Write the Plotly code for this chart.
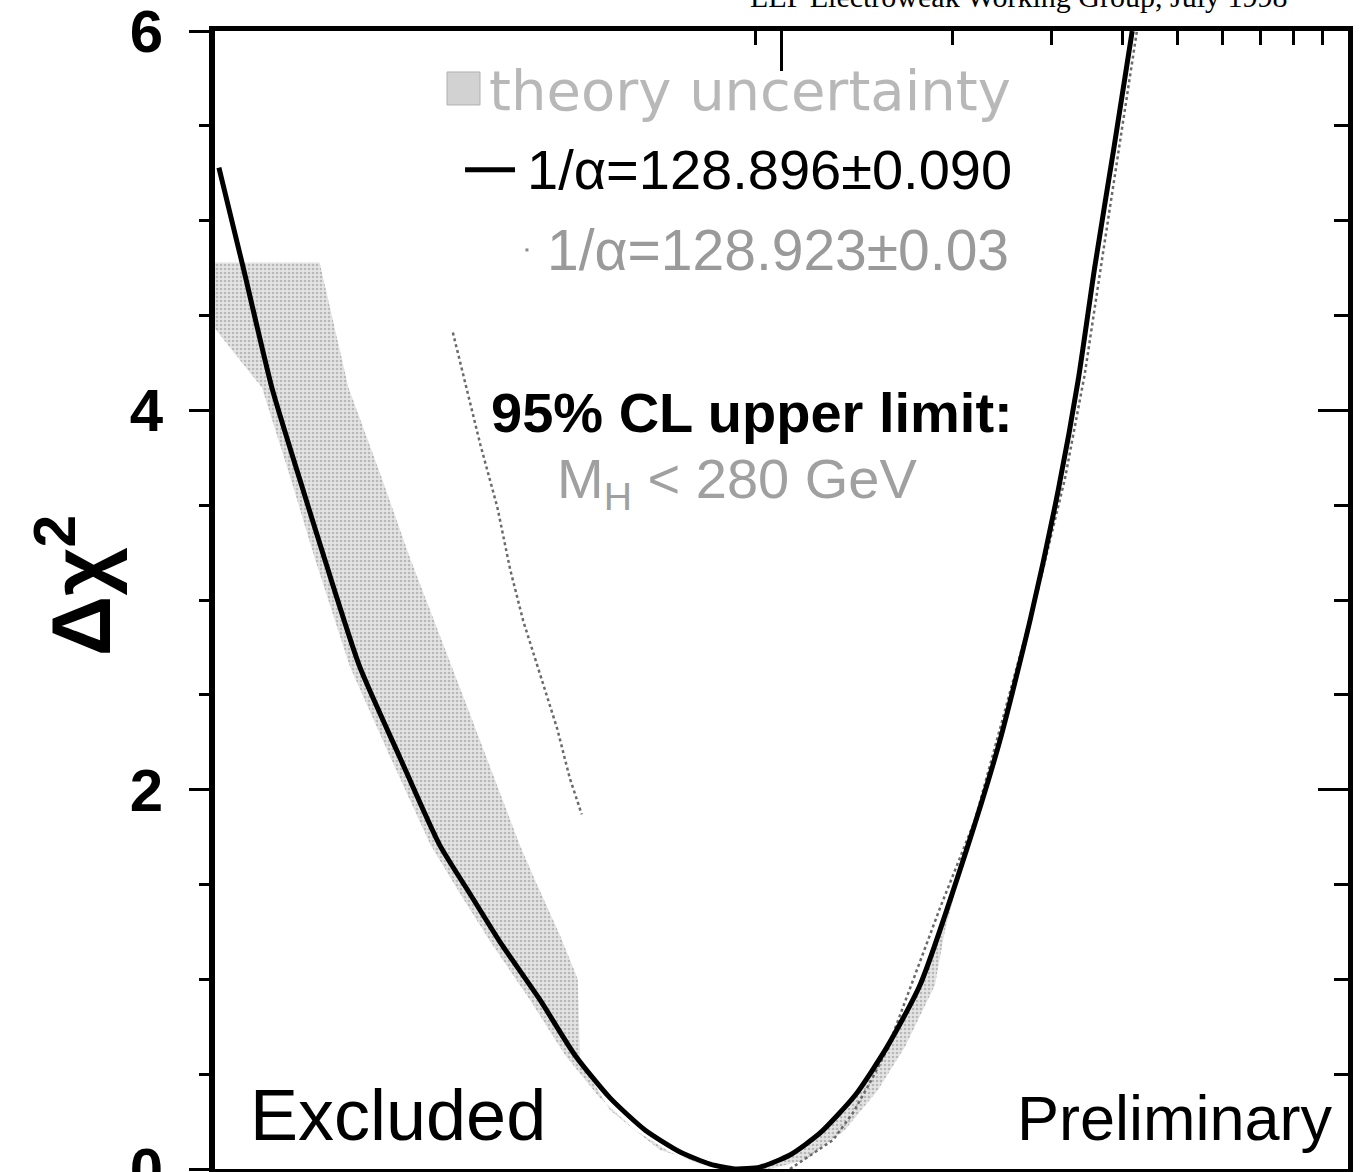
import plotly.graph_objects as go

# ---------------- data ----------------
# main fit curve: M_H [GeV], delta chi^2
fit_mh = [10.16, 11.2, 12.6, 14.1, 15.6, 18.0, 21.2, 24.9, 28.2, 31.8, 37.5, 43.2,
          49.8, 57.4, 66.2, 74.8, 82.8, 91.6, 103.5, 117, 135, 153.6, 175.6, 212,
          243, 275, 308, 334, 357, 386, 416]
fit_chi2 = [5.28, 4.76, 4.12, 3.64, 3.22, 2.65, 2.17, 1.71, 1.45, 1.20, 0.89, 0.60,
            0.375, 0.206, 0.09, 0.026, 0.0, 0.01, 0.074, 0.19, 0.39, 0.644, 0.97, 1.68,
            2.26, 2.90, 3.58, 4.16, 4.75, 5.38, 6.0]

# alternative alpha curve (dotted), two visible pieces
alt_left_mh = [26.3, 28.2, 29.4, 31.5, 33.2, 35.0, 37.5, 40.2, 42.3, 44.4]
alt_left_chi2 = [4.41, 4.04, 3.82, 3.49, 3.16, 2.89, 2.61, 2.32, 2.06, 1.87]
alt_right_mh = [103.5, 123.3, 133.7, 143.2, 153.6, 166.5, 190.5, 219.6, 251, 284,
                316.5, 343, 366, 394, 424]
alt_right_chi2 = [0.0, 0.153, 0.296, 0.454, 0.628, 0.908, 1.377, 1.84, 2.47, 3.06,
                  3.64, 4.19, 4.75, 5.38, 6.0]

# theory-uncertainty band, low-mass side: upper/left edge then lower/right edge
band_l_upper_mh = [10.0, 10.0, 12.1, 13.6, 15.0, 17.3, 20.4, 24.0, 27.1,
                   30.6, 36.0, 41.5, 47.8, 55.1, 63.5, 71.8, 79.5]
band_l_upper_chi2 = [4.78, 4.43, 4.12, 3.64, 3.22, 2.65, 2.17, 1.71, 1.45,
                     1.20, 0.89, 0.60, 0.375, 0.206, 0.09, 0.026, 0.0]
band_l_lower_mh = [95.5, 77.8, 61.0, 49.8, 44.1, 43.7, 40.6, 36.7, 34.5, 27.6,
                   22.1, 19.6, 17.2, 15.3]
band_l_lower_chi2 = [0.0, 0.005, 0.10, 0.31, 0.575, 1.0, 1.235, 1.525, 1.71, 2.47,
                     3.22, 3.66, 4.12, 4.78]

# theory-uncertainty band, high-mass side near the minimum (inner edge = fit curve)
band_r_outer_mh = [212, 194.4, 186.6, 165.2, 148, 129.4, 110, 95.5]
band_r_outer_chi2 = [1.68, 1.26, 0.97, 0.644, 0.417, 0.206, 0.047, 0.0]

y_major = [0, 2, 4, 6]
y_labels = ["0", "2", "4", "6"]
y_minor = [0.5, 1, 1.5, 2.5, 3, 3.5, 4.5, 5, 5.5]
x_major_top = [100]
x_minor_top = [90, 200, 300, 400, 500, 600, 700, 800, 900]

FONT = "Liberation Sans, Arial, Helvetica, sans-serif"

# ---------------- figure ----------------
fig = go.Figure()

pattern = dict(shape=".", bgcolor="#e4e4e4", fgcolor="#8c8c8c", size=4, solidity=0.35)

# left band polygon
bl_x = band_l_upper_mh + band_l_lower_mh
bl_y = band_l_upper_chi2 + band_l_lower_chi2
fig.add_trace(go.Scatter(x=bl_x, y=bl_y, mode="lines", fill="toself",
                         fillcolor="#dcdcdc", fillpattern=pattern,
                         line=dict(width=0, color="rgba(0,0,0,0)"),
                         hoverinfo="skip", showlegend=False))

# right band polygon: fit curve (minimum up to chi2 = 1.68) + outer edge back down
i_min = fit_chi2.index(0.0)
i_top = fit_chi2.index(1.68)
br_x = fit_mh[i_min:i_top + 1] + band_r_outer_mh
br_y = fit_chi2[i_min:i_top + 1] + band_r_outer_chi2
fig.add_trace(go.Scatter(x=br_x, y=br_y, mode="lines", fill="toself",
                         fillcolor="#dcdcdc", fillpattern=pattern,
                         line=dict(width=0, color="rgba(0,0,0,0)"),
                         hoverinfo="skip", showlegend=False))

# dotted alternative curve
fig.add_trace(go.Scatter(x=alt_left_mh + [None] + alt_right_mh,
                         y=alt_left_chi2 + [None] + alt_right_chi2,
                         mode="lines", line=dict(color="#6a6a6a", width=2.5, dash="dot"),
                         connectgaps=False, hoverinfo="skip", showlegend=False))

# main fit curve
fig.add_trace(go.Scatter(x=fit_mh, y=fit_chi2, mode="lines",
                         line=dict(color="black", width=5, shape="spline", smoothing=0.6),
                         hoverinfo="skip", showlegend=False))

# dummy trace to anchor mirrored axes
fig.add_trace(go.Scatter(x=[None], y=[None], xaxis="x2", yaxis="y2",
                         showlegend=False, hoverinfo="skip"))

fig.update_layout(
    width=1361, height=1172,
    margin=dict(l=215, r=13, t=31, b=3, autoexpand=False),
    paper_bgcolor="white", plot_bgcolor="white",
    font=dict(family=FONT, color="black"),
    showlegend=False,
    xaxis=dict(type="log", range=[1, 3], showline=True, linewidth=5, linecolor="black",
               ticks="", showticklabels=False, showgrid=False, zeroline=False,
               automargin=False),
    xaxis2=dict(type="log", range=[1, 3], overlaying="x", side="top", anchor="y",
                showline=True, linewidth=5, linecolor="black",
                ticks="inside", tickmode="array", tickvals=x_major_top, ticklen=40,
                tickwidth=3, tickcolor="black",
                minor=dict(tickmode="array", tickvals=x_minor_top, ticks="inside",
                           ticklen=14, tickwidth=3, tickcolor="black"),
                showticklabels=False, showgrid=False, zeroline=False, automargin=False),
    yaxis=dict(range=[0, 6], showline=True, linewidth=6, linecolor="black",
               ticks="outside", tickmode="array", tickvals=y_major, ticktext=y_labels,
               ticklen=20, tickwidth=3, tickcolor="black",
               minor=dict(tickmode="array", tickvals=y_minor, ticks="outside",
                          ticklen=10, tickwidth=3, tickcolor="black"),
               tickfont=dict(size=60, family=FONT, color="black", weight="bold"),
               ticklabelstandoff=14, ticklabeloverflow="allow",
               showgrid=False, zeroline=False, automargin=False),
    yaxis2=dict(range=[0, 6], overlaying="y", side="right", anchor="x",
                showline=True, linewidth=5, linecolor="black",
                ticks="inside", tickmode="array", tickvals=y_major, ticklen=30,
                tickwidth=3, tickcolor="black",
                minor=dict(tickmode="array", tickvals=y_minor, ticks="inside",
                           ticklen=14, tickwidth=3, tickcolor="black"),
                showticklabels=False, showgrid=False, zeroline=False, automargin=False),
)

# legend-like decorations (paper coordinates)
fig.add_shape(type="rect", xref="paper", yref="paper", x0=0.2048, x1=0.2339,
              y0=0.935, y1=0.964, fillcolor="#d2d2d2", line=dict(color="#b0b0b0", width=1))
fig.add_shape(type="line", xref="paper", yref="paper", x0=0.2207, x1=0.2648,
              y0=0.878, y1=0.878, line=dict(color="black", width=5))
fig.add_shape(type="line", xref="paper", yref="paper", x0=0.2740, x1=0.2790,
              y0=0.8076, y1=0.8076, line=dict(color="#8a8a8a", width=3, dash="dot"))

ann = [
    dict(text="theory uncertainty", x=0.240, y=0.948, xanchor="left", yanchor="middle",
         font=dict(size=56, family="DejaVu Sans, sans-serif", color="#b8b8b8")),
    dict(text="1/\u03b1=128.896\u00b10.090", x=0.2736, y=0.878, xanchor="left", yanchor="middle",
         font=dict(size=56, family=FONT, color="black")),
    dict(text="1/\u03b1=128.923\u00b10.03", x=0.2913, y=0.8076, xanchor="left", yanchor="middle",
         font=dict(size=57, family=FONT, color="#9a9a9a")),
    dict(text="<b>95% CL upper limit:</b>", x=0.474, y=0.665, xanchor="center", yanchor="middle",
         font=dict(size=56, family=FONT, color="black")),
    dict(text="M<sub>H</sub> &lt; 280 GeV", x=0.4607, y=0.603, xanchor="center", yanchor="middle",
         font=dict(size=56, family=FONT, color="#a0a0a0")),
    dict(text="Excluded", x=0.0291, y=0.0475, xanchor="left", yanchor="middle",
         font=dict(size=72, family=FONT, color="black")),
    dict(text="Preliminary", x=0.9885, y=0.045, xanchor="right", yanchor="middle",
         font=dict(size=63, family=FONT, color="black")),
    dict(text="<b>\u0394\u03c7<sup>2</sup></b>", x=-0.1236, y=0.513, xanchor="center", yanchor="middle",
         textangle=-90, font=dict(size=84, family=FONT, color="black")),
    dict(text="LEP Electroweak Working Group, July 1998", x=0.71, y=1.03,
         xanchor="center", yanchor="middle",
         font=dict(size=30, family="Liberation Serif, Times New Roman, serif", color="black")),
]
for a in ann:
    a.setdefault("xref", "paper")
    a.setdefault("yref", "paper")
    a["showarrow"] = False
    fig.add_annotation(**a)

fig.write_html("out.html")
